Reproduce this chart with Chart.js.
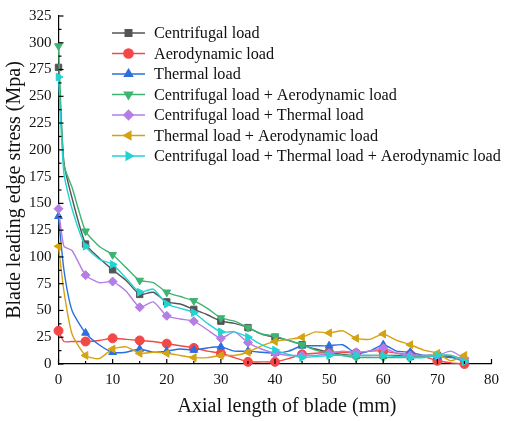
<!DOCTYPE html>
<html>
<head>
<meta charset="utf-8">
<script src="https://cdn.jsdelivr.net/npm/chart.js@4/dist/chart.umd.min.js"></script>
<style>
  html, body { margin: 0; padding: 0; background: #fff; }
  #wrap { width: 506px; height: 421px; }
</style>
</head>
<body>
<div id="wrap"><canvas id="stressChart" width="506" height="421"></canvas></div>
<script>
// axial positions (mm), markers only every 5 mm
const axialPos = [0, 1, 2.5, 5, 7.5, 10, 12.5, 15, 17.5, 20, 22.5, 25, 27.5, 30, 32.5, 35,
  37.5, 40, 42.5, 45, 47.5, 50, 52.5, 55, 57.5, 60, 62.5, 65, 67.5, 70, 72.5, 75];

const seriesNames = [
  'Centrifugal load',
  'Aerodynamic load',
  'Thermal load',
  'Centrifugal load + Aerodynamic load',
  'Centrifugal load + Thermal load',
  'Thermal load + Aerodynamic load',
  'Centrifugal load + Thermal load + Aerodynamic load'
];

const centrifugal = [277, 188, 155, 112, 99, 88, 78, 65, 67, 58, 56, 51, 46, 40, 38, 34,
  28, 25, 22, 18, 14, 11, 9, 8, 8, 8, 8, 7, 8, 8, 7, 2];
const aerodynamic = [31, 21, 21, 21, 22, 24, 23, 22, 21, 19, 17, 15, 12, 10, 6, 2,
  2, 2, 5, 9, 10, 11, 11, 10, 12, 12, 10, 9, 7, 3, 1, 0];
const thermal = [138, 88, 50, 29, 18, 11, 11, 14, 11, 12, 14, 13, 15, 16, 12, 12,
  11, 10, 12, 17, 17, 17, 18, 10, 12, 18, 12, 11, 8, 7, 6, 5];
const centAero = [297, 186, 165, 124, 110, 102, 90, 78, 76, 67, 63, 59, 52, 43, 40, 34,
  28, 26, 22, 18, 13, 10, 8, 6, 6, 6, 6, 6, 7, 8, 8, 4];
const centThermal = [145, 110, 106, 83, 76, 77, 68, 53, 58, 45, 42, 40, 32, 24, 30, 20,
  14, 10, 8, 8, 8, 10, 12, 11, 12, 15, 10, 8, 8, 8, 12, 5];
const thermAero = [110, 68, 28, 8, 5, 14, 16, 10, 11, 10, 8, 6, 6, 8, 8, 11,
  17, 21, 23, 25, 30, 29, 31, 24, 23, 28, 22, 18, 13, 10, 3, 8];
const allLoads = [268, 178, 145, 110, 98, 93, 80, 67, 70, 56, 52, 48, 38, 30, 30, 25,
  18, 13, 9, 6, 7, 8, 8, 8, 8, 8, 7, 6, 6, 8, 8, 2];

const seriesValues = [centrifugal, aerodynamic, thermal, centAero, centThermal, thermAero, allLoads];
const seriesColors = ['#555555', '#f24848', '#2a6fe0', '#3db472', '#b57ee6', '#d4a314', '#22d3d3'];
const markerStyles = ['rect', 'circle', 'triangle', 'triangle', 'rectRot', 'triangle', 'triangle'];
const markerRotation = [0, 0, 0, 180, 0, 270, 90];

const xTicks = [0, 10, 20, 30, 40, 50, 60, 70, 80];
const yTicks = [0, 25, 50, 75, 100, 125, 150, 175, 200, 225, 250, 275, 300, 325];
const xTitle = 'Axial length of blade (mm)';

const serif = '"Liberation Serif", "Times New Roman", serif';

const datasets = seriesNames.map((name, i) => ({
  label: name,
  data: axialPos.map((x, k) => ({ x: x, y: seriesValues[i][k] })),
  borderColor: seriesColors[i],
  backgroundColor: seriesColors[i],
  borderWidth: 1.4,
  pointStyle: markerStyles[i],
  rotation: markerRotation[i],
  pointRadius: axialPos.map(x => (x % 5 === 0 ? 4.5 : 0)),
  pointBorderWidth: 1,
  tension: 0.2,
  clip: false,
  order: seriesNames.length - i
}));

// inward tick marks like the original plot
const innerTicks = {
  id: 'innerTicks',
  afterDraw(chart) {
    const ctx = chart.ctx;
    const xs = chart.scales.x, ys = chart.scales.y;
    const area = chart.chartArea;
    ctx.save();
    ctx.strokeStyle = '#000';
    ctx.lineWidth = 1.2;
    for (let v = 0; v <= 80; v += 5) {
      const px = xs.getPixelForValue(v);
      const len = v % 10 === 0 ? 5 : 3;
      ctx.beginPath();
      ctx.moveTo(px, area.bottom);
      ctx.lineTo(px, area.bottom - len);
      ctx.stroke();
    }
    for (let v = 0; v <= 325; v += 12.5) {
      const py = ys.getPixelForValue(v);
      const len = v % 25 === 0 ? 5 : 3;
      ctx.beginPath();
      ctx.moveTo(area.left, py);
      ctx.lineTo(area.left + len, py);
      ctx.stroke();
    }
    // x axis title, sits a bit right of the plot centre in the original
    ctx.fillStyle = '#111';
    ctx.font = '20px ' + serif;
    ctx.textAlign = 'center';
    ctx.textBaseline = 'middle';
    ctx.fillText(xTitle, 287, 407);
    ctx.restore();
  }
};

// legend drawn inside the plot area, top right
const innerLegend = {
  id: 'innerLegend',
  afterDraw(chart) {
    const ctx = chart.ctx;
    ctx.save();
    ctx.font = '16.2px ' + serif;
    ctx.textBaseline = 'middle';
    chart.data.datasets.forEach((ds, i) => {
      const y = 33 + i * 20.5;
      ctx.strokeStyle = ds.borderColor;
      ctx.lineWidth = 1.6;
      ctx.beginPath();
      ctx.moveTo(112, y);
      ctx.lineTo(145, y);
      ctx.stroke();
      ctx.fillStyle = ds.backgroundColor;
      Chart.helpers.drawPoint(ctx, {
        pointStyle: ds.pointStyle,
        rotation: ds.rotation,
        radius: 4.5,
        borderWidth: 1
      }, 128.5, y);
      ctx.fillStyle = '#111';
      ctx.fillText(ds.label, 154, y + 1);
    });
    ctx.restore();
  }
};

new Chart(document.getElementById('stressChart'), {
  type: 'line',
  data: { datasets: datasets },
  options: {
    responsive: false,
    animation: false,
    layout: { padding: { top: 12, right: 12, left: 0, bottom: 0 } },
    plugins: { legend: { display: false }, tooltip: { enabled: false } },
    scales: {
      x: {
        type: 'linear',
        min: 0,
        max: 80,
        afterBuildTicks: s => { s.ticks = xTicks.map(v => ({ value: v })); },
        afterFit: s => { s.height = 57; },
        grid: { drawOnChartArea: false, drawTicks: false },
        border: { color: '#000', width: 1.2 },
        ticks: { color: '#111', padding: 7, font: { family: serif, size: 15 } }
      },
      y: {
        type: 'linear',
        min: 0,
        max: 325,
        afterBuildTicks: s => { s.ticks = yTicks.map(v => ({ value: v })); },
        afterFit: s => { s.width = 58.5; },
        grid: { drawOnChartArea: false, drawTicks: false },
        border: { color: '#000', width: 1.2 },
        ticks: { color: '#111', padding: 7, font: { family: serif, size: 15 } },
        title: {
          display: true,
          text: 'Blade leading edge stress (Mpa)',
          color: '#111',
          font: { family: serif, size: 20 },
          padding: { top: 3, bottom: 2 }
        }
      }
    }
  },
  plugins: [innerTicks, innerLegend]
});
</script>
</body>
</html>
